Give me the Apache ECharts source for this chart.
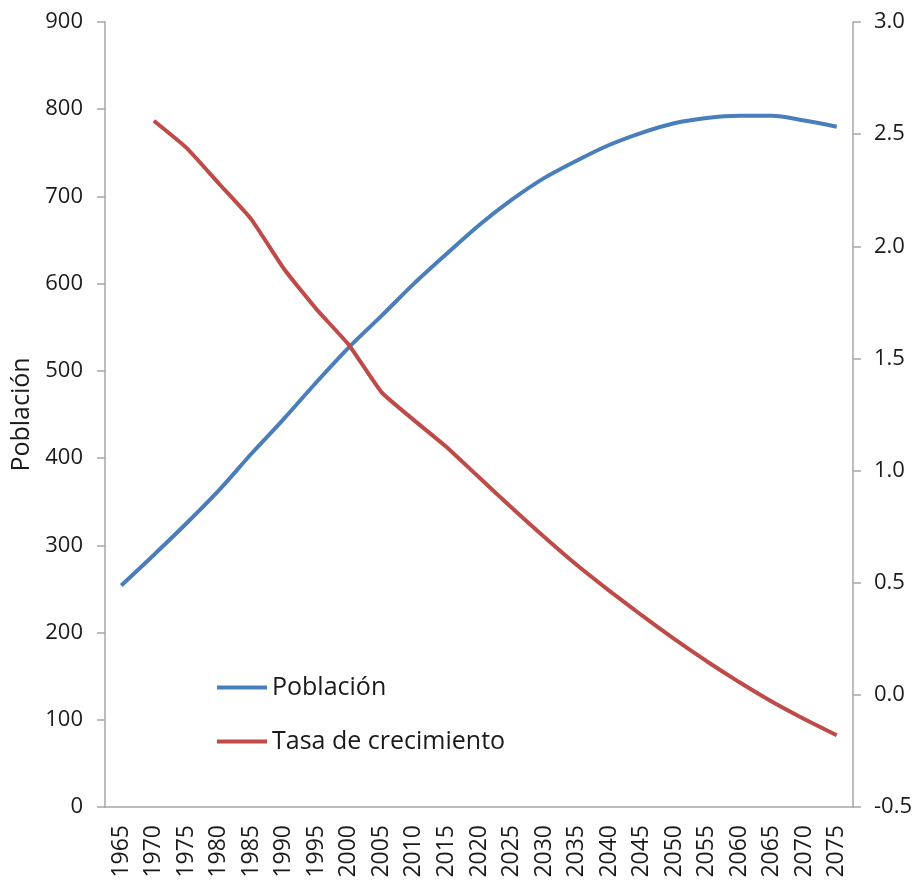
<!DOCTYPE html>
<html>
<head>
<meta charset="utf-8">
<title>Población y tasa de crecimiento</title>
<script src="https://cdn.jsdelivr.net/npm/echarts@6/dist/echarts.min.js"></script>
<style>
  html, body { margin: 0; padding: 0; background: #fff; }
  #chart { width: 915px; height: 882px; }
</style>
</head>
<body>
<div id="chart"></div>
<script>
// años (eje x)
const years = ['1965', '1970', '1975', '1980', '1985', '1990', '1995', '2000', '2005', '2010', '2015', '2020',
  '2025', '2030', '2035', '2040', '2045', '2050', '2055', '2060', '2065', '2070', '2075']

// población (eje izquierdo)
const poblacion = [254, 289, 325, 363, 405, 445, 487, 527, 563, 600, 634, 667,
  696, 721, 741, 759, 773, 784, 790, 792.5, 792.5, 787, 780]

// tasa de crecimiento (eje derecho), sin dato en 1965
const tasa = [null, 2.56, 2.44, 2.28, 2.12, 1.90, 1.72, 1.56, 1.35, 1.225, 1.105, 0.97,
  0.835, 0.705, 0.58, 0.465, 0.355, 0.25, 0.15, 0.057, -0.03, -0.108, -0.18]

const font = '"Open Sans", "Noto Sans", sans-serif'
const axisColor = '#a6a6a6'
const textColor = '#1a1a1a'

const chart = echarts.init(document.getElementById('chart'))

const option = {
  animation: false,
  textStyle: { fontFamily: font },
  grid: { left: 105, right: 61, top: 22, bottom: 75 },
  legend: {
    orient: 'vertical',
    left: 217,
    top: 675,
    padding: 0,
    icon: 'rect',
    itemWidth: 50,
    itemHeight: 4,
    itemGap: 29,
    textStyle: { fontFamily: font, fontSize: 25, color: textColor },
    data: ['Población', 'Tasa de crecimiento']
  },
  xAxis: {
    type: 'category',
    data: years,
    boundaryGap: true,
    axisLine: { lineStyle: { color: axisColor, width: 1.5 } },
    axisTick: { length: 8, lineStyle: { color: axisColor, width: 1.5 } },
    axisLabel: { rotate: 90, interval: 0, margin: 18, fontSize: 23, color: textColor, fontFamily: font }
  },
  yAxis: [
    {
      type: 'value',
      min: 0,
      max: 900,
      interval: 100,
      name: 'Población',
      nameLocation: 'middle',
      nameGap: 67,
      nameTextStyle: { fontSize: 25, color: textColor, fontFamily: font },
      axisLine: { show: true, lineStyle: { color: axisColor, width: 1.5 } },
      axisTick: { show: true, length: 8, lineStyle: { color: axisColor, width: 1.5 } },
      axisLabel: { margin: 22, fontSize: 22, color: textColor, fontFamily: font },
      splitLine: { show: false }
    },
    {
      type: 'value',
      min: -0.5,
      max: 3.0,
      interval: 0.5,
      position: 'right',
      axisLine: { show: true, lineStyle: { color: axisColor, width: 1.5 } },
      axisTick: { show: true, length: 8, lineStyle: { color: axisColor, width: 1.5 } },
      axisLabel: { margin: 21, fontSize: 22, color: textColor, fontFamily: font,
        formatter: v => v.toFixed(1) },
      splitLine: { show: false }
    }
  ],
  series: [
    {
      name: 'Población',
      type: 'line',
      yAxisIndex: 0,
      data: poblacion,
      smooth: 0.3,
      showSymbol: false,
      color: '#4a7ebb',
      lineStyle: { width: 4, color: '#4a7ebb' }
    },
    {
      name: 'Tasa de crecimiento',
      type: 'line',
      yAxisIndex: 1,
      data: tasa,
      smooth: 0.15,
      showSymbol: false,
      color: '#be4b48',
      lineStyle: { width: 4, color: '#be4b48' }
    }
  ]
}

chart.setOption(option)
</script>
</body>
</html>
